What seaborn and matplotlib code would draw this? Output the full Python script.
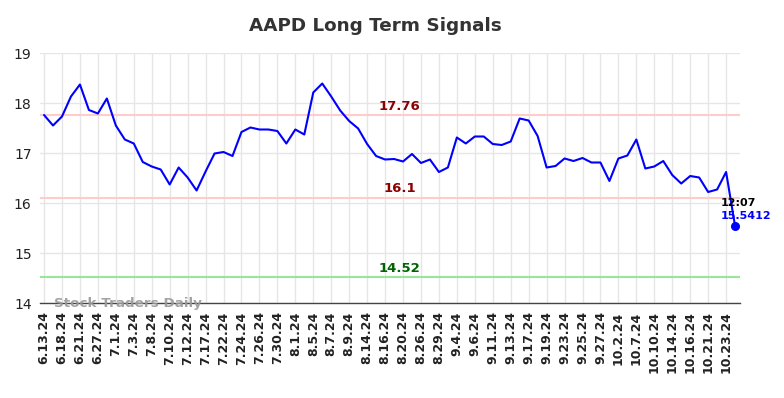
import matplotlib
matplotlib.use("Agg")
import matplotlib.pyplot as plt
import seaborn as sns
import pandas as pd
import numpy as np

tick_labels = ["6.13.24", "6.18.24", "6.21.24", "6.27.24", "7.1.24", "7.3.24", "7.8.24",
               "7.10.24", "7.12.24", "7.17.24", "7.22.24", "7.24.24", "7.26.24", "7.30.24",
               "8.1.24", "8.5.24", "8.7.24", "8.9.24", "8.14.24", "8.16.24", "8.20.24",
               "8.26.24", "8.29.24", "9.4.24", "9.6.24", "9.11.24", "9.13.24", "9.17.24",
               "9.19.24", "9.23.24", "9.25.24", "9.27.24", "10.2.24", "10.7.24", "10.10.24",
               "10.14.24", "10.16.24", "10.21.24", "10.23.24"]

prices = [17.76, 17.55, 17.73, 18.13, 18.37, 17.86, 17.79, 18.09, 17.55, 17.27,
          17.19, 16.82, 16.73, 16.67, 16.37, 16.71, 16.51, 16.25, 16.63, 16.99,
          17.02, 16.94, 17.42, 17.51, 17.47, 17.47, 17.44, 17.19, 17.47, 17.37,
          18.21, 18.39, 18.13, 17.85, 17.64, 17.49, 17.18, 16.94, 16.87, 16.88,
          16.83, 16.98, 16.80, 16.87, 16.62, 16.71, 17.31, 17.19, 17.33, 17.33,
          17.18, 17.16, 17.23, 17.69, 17.65, 17.34, 16.71, 16.74, 16.89, 16.84,
          16.90, 16.81, 16.81, 16.44, 16.89, 16.95, 17.27, 16.69, 16.73, 16.84,
          16.56, 16.39, 16.54, 16.51, 16.22, 16.27, 16.62, 15.5412]

resistance_upper = 17.76
resistance_lower = 16.1
support = 14.52
last_time = "12:07"

df = pd.DataFrame({"idx": np.arange(len(prices)), "price": prices})

sns.set_style("white")
fig = plt.figure(figsize=(7.84, 3.98), dpi=100)
ax = fig.add_axes([40/784, 1-303/398, 700/784, 250/398])

ax.set_xlim(-0.45, 77.55)
ax.set_ylim(14, 19)

tick_pos = list(range(0, 2*len(tick_labels), 2))
ax.set_xticks(tick_pos)
ax.set_xticklabels(tick_labels, rotation=90, fontsize=9, fontweight="bold", color="#222222")
ax.set_yticks([14, 15, 16, 17, 18, 19])
ax.set_yticklabels(["14", "15", "16", "17", "18", "19"], fontsize=10, color="#222222")
ax.grid(True, color="#e6e6e6", linewidth=1)
ax.set_axisbelow(True)
for s in ["top", "right", "left"]:
    ax.spines[s].set_visible(False)
ax.spines["bottom"].set_color("#444444")
ax.spines["bottom"].set_linewidth(1)
ax.tick_params(axis="both", length=0, pad=6)

ax.axhline(resistance_upper, color="#ffcccc", linewidth=1.5, zorder=1)
ax.axhline(resistance_lower, color="#ffcccc", linewidth=1.5, zorder=1)
ax.axhline(support, color="#99e699", linewidth=1.5, zorder=1)

sns.lineplot(data=df, x="idx", y="price", ax=ax, color="#0000ff", linewidth=1.5, zorder=3)
ax.set_xlabel("")
ax.set_ylabel("")

mid = 39.6
ax.text(mid, resistance_upper + 0.05, f"{resistance_upper:g}", color="#8b0000",
        fontsize=9.5, fontweight="bold", ha="center", va="bottom")
ax.text(mid, resistance_lower + 0.05, f"{resistance_lower:g}", color="#8b0000",
        fontsize=9.5, fontweight="bold", ha="center", va="bottom")
ax.text(mid, support + 0.05, f"{support:g}", color="#006400",
        fontsize=9.5, fontweight="bold", ha="center", va="bottom")

last_i = len(prices) - 1
ax.scatter([last_i], [prices[-1]], color="#0000ff", s=30, zorder=4, clip_on=False)
ax.text(last_i - 1.65, 16.0, last_time, color="black", fontsize=8,
        fontweight="bold", ha="left", va="center")
ax.text(last_i - 1.65, 15.74, f"{prices[-1]:g}", color="#0000ff", fontsize=8,
        fontweight="bold", ha="left", va="center")

ax.text(1.1, 14.0, "Stock Traders Daily", color="#999999", fontsize=9.7,
        fontweight="bold", ha="left", va="center", alpha=0.9)

fig.text(375/784, 1-26/398, "AAPD Long Term Signals", fontsize=13.2, fontweight="bold",
         color="#333333", ha="center", va="center")

fig.savefig("out.png", dpi=100)
